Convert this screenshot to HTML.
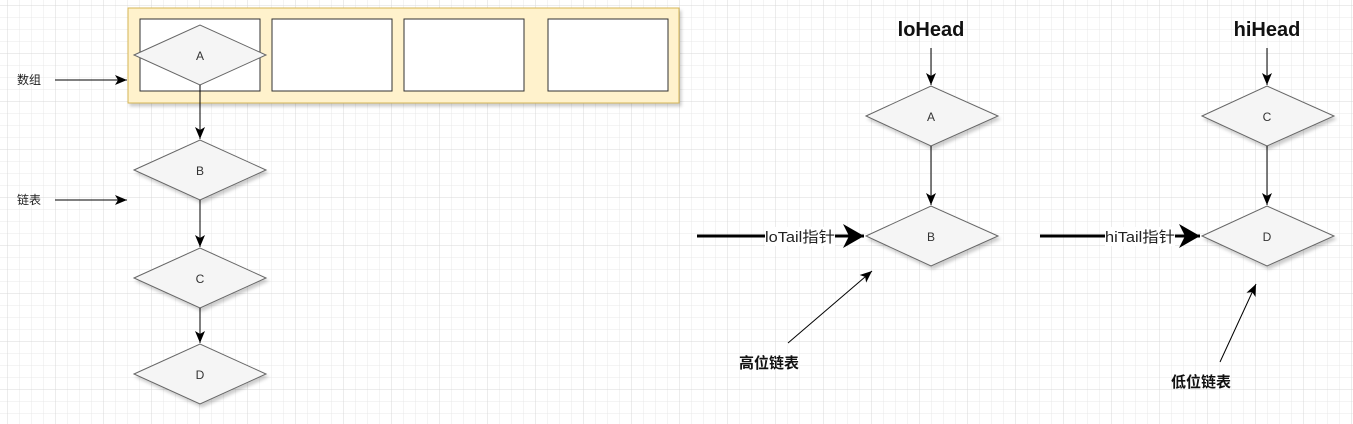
<!DOCTYPE html>
<html><head><meta charset="utf-8"><style>
html,body{margin:0;padding:0;background:#fff;}
svg{display:block;}
text{font-family:"Liberation Sans","Noto Sans CJK SC",sans-serif;}
</style></head><body>
<svg width="1353" height="424" xmlns="http://www.w3.org/2000/svg">
<defs>
<pattern id="g" x="8" y="6" width="12" height="12" patternUnits="userSpaceOnUse"><path d="M12 0V12M0 12H12" fill="none" stroke="#e8e8e8" stroke-width="1"/></pattern>
<pattern id="G" x="8" y="6" width="48" height="48" patternUnits="userSpaceOnUse"><path d="M48 0V48M0 48H48" fill="none" stroke="#d8d8d8" stroke-width="1"/></pattern>
<marker id="a" markerWidth="14" markerHeight="14" refX="12" refY="6" orient="auto" markerUnits="userSpaceOnUse"><path d="M0 1L12 6L0 11L3 6Z" fill="#000"/></marker>
<marker id="b" markerWidth="8" markerHeight="8" refX="7" refY="4" orient="auto" markerUnits="strokeWidth"><path d="M0 0L7 4L0 8L2 4Z" fill="#000"/></marker>
<filter id="s"><feDropShadow dx="2" dy="3" stdDeviation="1.5" flood-color="#000" flood-opacity="0.2"/></filter>
</defs>
<rect width="1353" height="424" fill="url(#g)"/>
<rect width="1353" height="424" fill="url(#G)"/>
<g filter="url(#s)">
<rect x="128" y="8" width="551" height="95" fill="#fff2cc" stroke="#d6b656"/>
<rect x="140" y="19" width="120" height="72" fill="#fff" stroke="#333"/>
<rect x="272" y="19" width="120" height="72" fill="#fff" stroke="#333"/>
<rect x="404" y="19" width="120" height="72" fill="#fff" stroke="#333"/>
<rect x="548" y="19" width="120" height="72" fill="#fff" stroke="#333"/>
<g fill="#f5f5f5" stroke="#666">
<path d="M134 55L200 25L266 55L200 85Z"/>
<path d="M134 170L200 140L266 170L200 200Z"/>
<path d="M134 278L200 248L266 278L200 308Z"/>
<path d="M134 374L200 344L266 374L200 404Z"/>
<path d="M866 116L931 86L998 116L931 146Z"/>
<path d="M866 236L931 206L998 236L931 266Z"/>
<path d="M1202 116L1267 86L1334 116L1267 146Z"/>
<path d="M1202 236L1267 206L1334 236L1267 266Z"/>
</g>
</g>
<g font-size="12" fill="#333" text-anchor="middle">
<text x="200" y="60">A</text><text x="200" y="175">B</text><text x="200" y="283">C</text><text x="200" y="379">D</text>
<text x="931" y="121">A</text><text x="931" y="241">B</text><text x="1267" y="121">C</text><text x="1267" y="241">D</text>
</g>
<g stroke="#000" stroke-width="1" fill="none" marker-end="url(#a)">
<path d="M200 85V139"/><path d="M200 200V247"/><path d="M200 308V343"/>
<path d="M55 80H127"/><path d="M55 200H127"/>
<path d="M931 48V85"/><path d="M931 146V205"/>
<path d="M1267 48V85"/><path d="M1267 146V205"/>
<path d="M788 343L872 271"/><path d="M1220 362L1256 284"/>
</g>
<g stroke="#000" stroke-width="3" fill="none" marker-end="url(#b)">
<path d="M697 236H864"/><path d="M1040 236H1200"/>
</g>
<rect x="765" y="227" width="70" height="19" fill="#fff"/>
<rect x="1105" y="227" width="70" height="19" fill="#fff"/>
<g font-size="15" fill="#222" text-anchor="middle">
<text x="800" y="242" textLength="70" lengthAdjust="spacingAndGlyphs">loTail指针</text>
<text x="1140" y="242" textLength="70" lengthAdjust="spacingAndGlyphs">hiTail指针</text>
</g>
<g font-size="12" fill="#222">
<text x="17" y="84">数组</text><text x="17" y="204">链表</text>
</g>
<g font-weight="bold" fill="#111" text-anchor="middle">
<text x="931" y="36" font-size="20">loHead</text>
<text x="1267" y="36" font-size="20">hiHead</text>
<text x="769" y="368" font-size="15">高位链表</text>
<text x="1201" y="387" font-size="15">低位链表</text>
</g>
</svg>
</body></html>
